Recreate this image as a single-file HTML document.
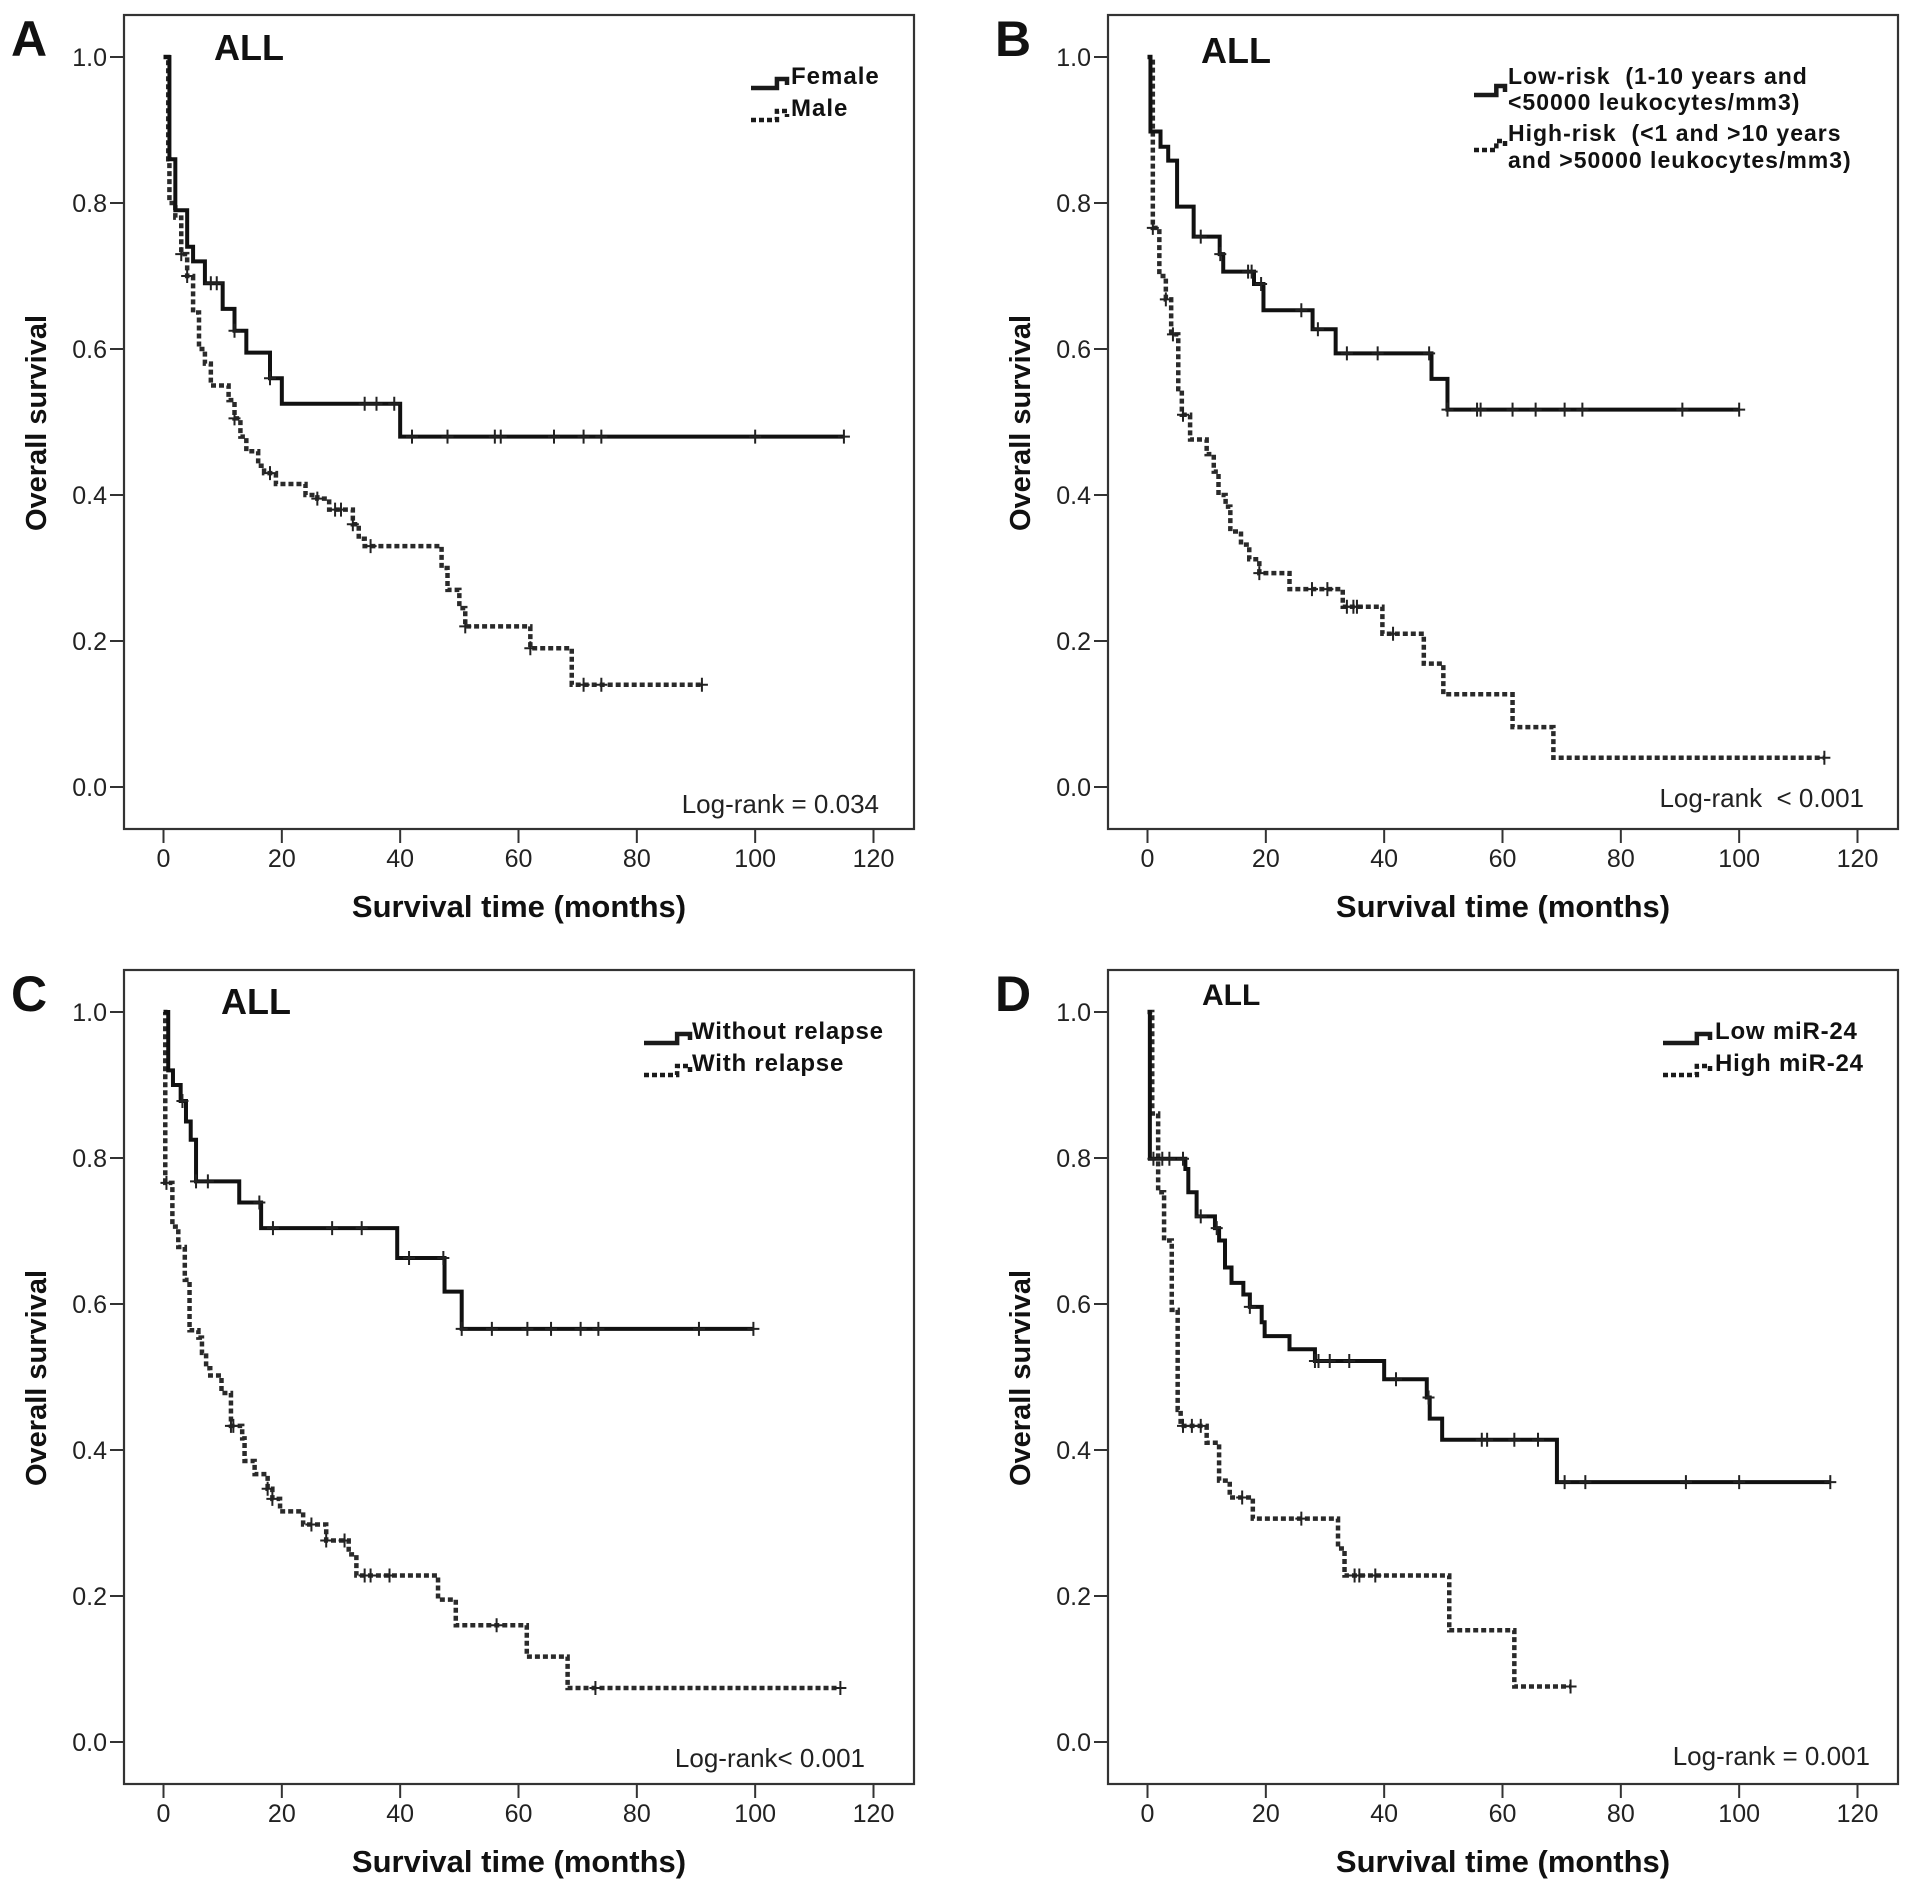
<!DOCTYPE html>
<html><head><meta charset="utf-8"><style>
html,body{margin:0;padding:0;background:#fff;}
svg{display:block;font-family:"Liberation Sans",Arial,sans-serif;}
</style></head><body>
<svg id="fig" width="1913" height="1890" viewBox="0 0 1913 1890" xmlns="http://www.w3.org/2000/svg"></svg>
<script>
// ---- Data (months, survival) ----
const xTicks = [0,20,40,60,80,100,120];
const yTicks = [0.0,0.2,0.4,0.6,0.8,1.0];
const yTickLabels = ["0.0","0.2","0.4","0.6","0.8","1.0"];

// Panel A
const aFemaleT = [1,2,4,5,7,10,12,14,18,20,40];
const aFemaleS = [0.86,0.79,0.74,0.72,0.69,0.655,0.625,0.595,0.56,0.525,0.48];
const aFemaleCens = [8,9,12,18,34,36,39,42,48,56,57,66,71,74,100,115];
const aFemaleEnd = 115;
const aMaleT = [0.8,1,2,3,4,5,6,7,8,11,12,13,14,16,17,19,24,26,28,32,33,34,47,48,50,51,62,69];
const aMaleS = [0.86,0.80,0.78,0.73,0.70,0.65,0.60,0.58,0.55,0.53,0.505,0.48,0.46,0.44,0.43,0.415,0.40,0.395,0.38,0.36,0.34,0.33,0.30,0.27,0.245,0.22,0.19,0.14];
const aMaleCens = [3,4,12,18,26,29,30,32,35,51,62,71,74,91];
const aMaleEnd = 91;

// Panel B
const bLowT = [0.5,2.2,3.5,5,7.8,12.2,12.8,18,19.6,27.9,31.8,48,50.7];
const bLowS = [0.898,0.877,0.858,0.795,0.754,0.73,0.706,0.689,0.653,0.627,0.594,0.559,0.517];
const bLowCens = [9,12.3,17,17.6,19.2,26,28.8,33.7,38.9,47.6,50.7,55.7,56.3,61.7,65.6,70.5,73.5,90.4,100];
const bLowEnd = 100;
const bHighT = [0.9,2,3.1,4,5.2,5.8,7.2,10,11.2,12,13.2,14,15.8,17.2,18.9,24,33,39.7,46.7,50,61.7,68.6];
const bHighS = [0.766,0.70,0.668,0.62,0.545,0.51,0.476,0.456,0.432,0.40,0.384,0.35,0.332,0.312,0.293,0.271,0.247,0.21,0.169,0.127,0.082,0.04];
const bHighCens = [0.9,3.1,4.3,6,18.9,27.8,30.4,33.7,34.8,35.4,41.5,114.4];
const bHighEnd = 114.4;

// Panel C
const cWithoutT = [0.8,1.6,2.9,3.8,4.6,5.5,12.8,16.5,39.5,47.5,50.4];
const cWithoutS = [0.92,0.90,0.878,0.85,0.825,0.768,0.739,0.704,0.663,0.617,0.566];
const cWithoutCens = [3.2,5.5,7.5,16.2,18.5,28.5,33.5,41.5,47.3,50.4,55.5,61.5,65.5,70.5,73.5,90.5,99.7];
const cWithoutEnd = 99.7;
const cWithT = [0.3,1.5,2.5,3.6,4.4,5.9,6.5,7.2,7.9,9.8,11.4,13.3,13.7,15.4,17.6,18.4,19.7,23.6,27.5,31.3,32.6,46.4,49.4,61.4,68.3];
const cWithS = [0.766,0.706,0.678,0.633,0.564,0.554,0.533,0.512,0.502,0.478,0.433,0.416,0.385,0.367,0.347,0.333,0.316,0.298,0.276,0.257,0.228,0.195,0.16,0.117,0.074];
const cWithCens = [0.5,11.4,11.8,17.6,18.4,25,27.5,30.6,34,35,38.2,56.3,73,114.4];
const cWithEnd = 114.4;

// Panel D
const dLowT = [0.4,6.4,6.9,8.3,11.4,12.1,13.1,14.2,16.2,17.3,19.3,19.8,24,28.3,40,47.2,47.7,49.8,69.2];
const dLowS = [0.799,0.785,0.753,0.72,0.704,0.687,0.65,0.629,0.613,0.596,0.575,0.556,0.538,0.522,0.497,0.472,0.443,0.414,0.356];
const dLowCens = [1,2.5,3.7,6,9,11.7,17.3,28.3,28.9,30.8,34.1,42,47.5,56.5,57.4,62,66,70.5,74,91,100,115.4];
const dLowEnd = 115.4;
const dHighT = [0.8,1.8,2.8,4.1,5.1,5.6,10,12.1,13.9,17.8,32.2,33.3,51,62];
const dHighS = [0.861,0.753,0.687,0.592,0.455,0.433,0.41,0.358,0.335,0.306,0.265,0.228,0.153,0.076];
const dHighCens = [6,7.5,9,16,26,35,35.8,38.5,71.5];
const dHighEnd = 71.5;

// ---- Drawing ----
const NS = "http://www.w3.org/2000/svg";
const svg = document.getElementById('fig');
const BW = 790, BH = 814;
function X(m){ return 39.5 + m * 710 / 120; }
function Y(s){ return 42 + (1 - s) * 730; }
function mk(tag, attrs, parent){
  const e = document.createElementNS(NS, tag);
  for (const k in attrs) e.setAttribute(k, attrs[k]);
  parent.appendChild(e); return e;
}
function survAt(T, S, t){ let v = 1; for (let i=0;i<T.length;i++){ if (T[i] <= t) v = S[i]; } return v; }

function drawCurve(g, T, S, cens, end, dotted, name){
  let d = "M" + X(0) + "," + Y(1);
  for (let i=0;i<T.length;i++){ d += " H" + X(T[i]) + " V" + Y(S[i]); }
  d += " H" + X(end);
  const p = mk('path', {d:d, fill:'none', stroke: dotted ? '#2a2a2a' : '#111', 'stroke-width': dotted ? 4.5 : 4, 'stroke-dasharray': dotted ? '5,3' : 'none'}, g);
  
  
  for (const t of cens){
    const cx = X(t), cy = Y(survAt(T,S,t));
    const c = mk('path', {d:"M"+cx+","+(cy-7)+" V"+(cy+7)+" M"+(cx-6)+","+cy+" H"+(cx+6), stroke:'#222', 'stroke-width':2, fill:'none'}, g);
    
    
  }
}

function txt(g, x, y, s, attrs, name){
  const t = mk('text', Object.assign({x:x, y:y, fill:'#111'}, attrs), g);
  t.textContent = s;
  
  
  return t;
}

function panel(cfg){
  const g = mk('g', {transform:'translate('+cfg.ox+','+cfg.oy+')'}, svg);
  
  
  const box = mk('rect', {x:0, y:0, width:BW, height:BH, fill:'none', stroke:'#333', 'stroke-width':2.2}, g);
  
  
  for (let i=0;i<yTicks.length;i++){
    const yy = Y(yTicks[i]);
    const tk = mk('line', {x1:-14, x2:0, y1:yy, y2:yy, stroke:'#333', 'stroke-width':2}, g);
    
    
    txt(g, -17, yy + 9, yTickLabels[i], {'font-size':25, 'text-anchor':'end', fill:'#222'}, 'y-tick-label');
  }
  for (const v of xTicks){
    const xx = X(v);
    const tk = mk('line', {x1:xx, x2:xx, y1:BH, y2:BH+14, stroke:'#333', 'stroke-width':2}, g);
    
    
    txt(g, xx, BH + 38, String(v), {'font-size':25, 'text-anchor':'middle', fill:'#222'}, 'x-tick-label');
  }
  txt(g, BW/2, BH + 88, 'Survival time (months)', {'font-size':31, 'font-weight':'bold', 'text-anchor':'middle'}, 'x-axis-title');
  txt(g, 0, 0, 'Overall survival', {'font-size':29, 'font-weight':'bold', 'text-anchor':'middle', transform:'translate(-78,408) rotate(-90)'}, 'y-axis-title');
  txt(g, -113, 41, cfg.letter, {'font-size':50, 'font-weight':'bold'}, 'panel-letter');
  txt(g, cfg.allX, cfg.allY, 'ALL', {'font-size':cfg.allSize, 'font-weight':'bold'}, 'subgroup-title');
  txt(g, cfg.lrX, cfg.lrY, cfg.logrank, {'font-size':26, 'text-anchor':'end', fill:'#222'}, 'log-rank-annotation');
  for (const L of cfg.legend){
    const sx = L.sx, sy = L.sy, sw = L.sw;
    const sym = mk('path', {d:"M"+sx+","+(sy+4)+" H"+(sx+sw*0.72)+" V"+(sy-5)+" H"+(sx+sw)+" V"+(sy+1), fill:'none', stroke:'#1a1a1a', 'stroke-width':4.5, 'stroke-dasharray': L.dotted ? '5,3' : 'none'}, g);
    
    
    for (let i=0;i<L.lines.length;i++){
      txt(g, L.tx, L.ty + i*L.lh, L.lines[i], {'font-size':L.fs, 'font-weight':'bold', 'letter-spacing':L.ls}, 'legend-entry');
    }
  }
  for (const c of cfg.curves) drawCurve(g, c.T, c.S, c.cens, c.end, c.dotted, c.name);
}

panel({ox:124, oy:15, letter:'A', allX:90, allY:45, allSize:36, lrX:755, lrY:798, logrank:'Log-rank = 0.034',
  legend:[{sx:627, sy:69, sw:36, tx:667, ty:69, lh:0, lines:['Female'], fs:24, ls:1, dotted:false},
          {sx:627, sy:101, sw:36, tx:667, ty:101, lh:0, lines:['Male'], fs:24, ls:1, dotted:true}],
  curves:[{T:aMaleT,S:aMaleS,cens:aMaleCens,end:aMaleEnd,dotted:true,name:'male'},
          {T:aFemaleT,S:aFemaleS,cens:aFemaleCens,end:aFemaleEnd,dotted:false,name:'female'}]});

panel({ox:1108, oy:15, letter:'B', allX:93, allY:48, allSize:36, lrX:756, lrY:792, logrank:'Log-rank\u00a0 < 0.001',
  legend:[{sx:366, sy:76, sw:31, tx:400, ty:69, lh:26, lines:['Low-risk\u00a0 (1-10 years and','<50000 leukocytes/mm3)'], fs:23, ls:1, dotted:false},
          {sx:366, sy:131, sw:31, tx:400, ty:126, lh:27, lines:['High-risk\u00a0 (<1 and >10 years','and >50000 leukocytes/mm3)'], fs:23, ls:1, dotted:true}],
  curves:[{T:bHighT,S:bHighS,cens:bHighCens,end:bHighEnd,dotted:true,name:'high-risk'},
          {T:bLowT,S:bLowS,cens:bLowCens,end:bLowEnd,dotted:false,name:'low-risk'}]});

panel({ox:124, oy:970, letter:'C', allX:97, allY:44, allSize:36, lrX:741, lrY:797, logrank:'Log-rank< 0.001',
  legend:[{sx:520, sy:69, sw:46, tx:568, ty:69, lh:0, lines:['Without relapse'], fs:24, ls:0.8, dotted:false},
          {sx:520, sy:101, sw:46, tx:568, ty:101, lh:0, lines:['With relapse'], fs:24, ls:0.8, dotted:true}],
  curves:[{T:cWithT,S:cWithS,cens:cWithCens,end:cWithEnd,dotted:true,name:'with-relapse'},
          {T:cWithoutT,S:cWithoutS,cens:cWithoutCens,end:cWithoutEnd,dotted:false,name:'without-relapse'}]});

panel({ox:1108, oy:970, letter:'D', allX:94, allY:35, allSize:30, lrX:762, lrY:795, logrank:'Log-rank = 0.001',
  legend:[{sx:555, sy:69, sw:47, tx:607, ty:69, lh:0, lines:['Low miR-24'], fs:24, ls:0.8, dotted:false},
          {sx:555, sy:101, sw:47, tx:607, ty:101, lh:0, lines:['High miR-24'], fs:24, ls:0.8, dotted:true}],
  curves:[{T:dHighT,S:dHighS,cens:dHighCens,end:dHighEnd,dotted:true,name:'high-mir24'},
          {T:dLowT,S:dLowS,cens:dLowCens,end:dLowEnd,dotted:false,name:'low-mir24'}]});
</script>
</body></html>
